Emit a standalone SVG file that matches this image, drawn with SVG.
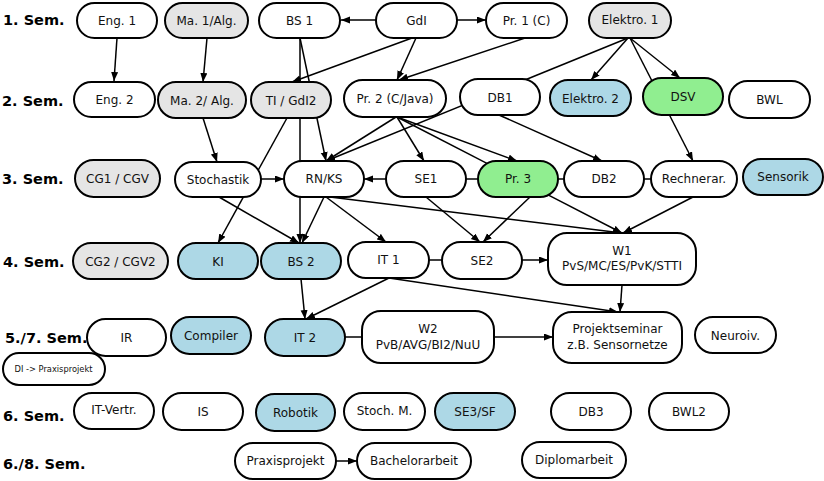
<svg xmlns="http://www.w3.org/2000/svg" width="824" height="481" viewBox="0 0 824 481">
<style>
.n rect{stroke:#000;stroke-width:2;fill:#fff}
.g rect{fill:#e5e5e5}
.b rect{fill:#add8e6}
.v rect{fill:#90ee90}
text{font-family:"DejaVu Sans","Liberation Sans",sans-serif;font-size:12px;fill:#111;text-anchor:middle}
.sem{font-weight:bold;font-size:14.5px;text-anchor:start;fill:#000}
.small{font-size:8.3px}
#edges path{stroke:#000;stroke-width:1.5;fill:none}
#edges .a{marker-end:url(#arr)}
</style>
<defs>
<marker id="arr" markerUnits="userSpaceOnUse" markerWidth="10" markerHeight="8" refX="9" refY="3.5" orient="auto">
<path d="M0,0 L9,3.5 L0,7 z" fill="#000"/>
</marker>
</defs>
<g id="labels">
<text class="sem" x="3" y="25">1. Sem.</text>
<text class="sem" x="2" y="106">2. Sem.</text>
<text class="sem" x="2" y="184">3. Sem.</text>
<text class="sem" x="3" y="267">4. Sem.</text>
<text class="sem" x="5" y="343">5./7. Sem.</text>
<text class="sem" x="3" y="421">6. Sem.</text>
<text class="sem" x="3" y="469">6./8. Sem.</text>
</g>
<g id="edges">
<path class="a" d="M117,38 L114,81"/>
<path class="a" d="M207,38 L203,82"/>
<path class="a" d="M376,20 L341,20"/>
<path class="a" d="M457,20 L486,20"/>
<path class="a" d="M412,38 L292,82"/>
<path class="a" d="M416,38 L397,80"/>
<path class="a" d="M528,37 L399,80"/>
<path class="a" d="M300,38 L300,243"/>
<path class="a" d="M300,38 L326,161"/>
<path class="a" d="M628,38 L591,80"/>
<path class="a" d="M630,38 L680,78"/>
<path class="a" d="M630,38 L693,161"/>
<path class="a" d="M628,38 L326,161"/>
<path class="a" d="M396,117 L326,161"/>
<path class="a" d="M397,117 L424,161"/>
<path class="a" d="M397,117 L517,161"/>
<path class="a" d="M397,117 L622,233"/>
<path class="a" d="M499,115 L602,161"/>
<path class="a" d="M203,118 L217,162"/>
<path class="a" d="M287,118 L218,243"/>
<path class="a" d="M261,179 L284,179"/>
<path class="a" d="M386,179 L364,179"/>
<path d="M466,179 L478,179"/>
<path d="M558,179 L564,179"/>
<path d="M644,179 L651,179"/>
<path class="a" d="M219,197 L299,243"/>
<path class="a" d="M324,197 L302,243"/>
<path class="a" d="M326,197 L386,242"/>
<path class="a" d="M330,197 L622,233"/>
<path class="a" d="M426,197 L480,242"/>
<path class="a" d="M530,197 L483,242"/>
<path class="a" d="M693,197 L623,233"/>
<path class="a" d="M522,260 L548,260"/>
<path d="M429,260 L442,260"/>
<path class="a" d="M301,279 L305,319"/>
<path class="a" d="M389,278 L306,319"/>
<path class="a" d="M389,278 L618,312"/>
<path class="a" d="M622,285 L620,312"/>
<path class="a" d="M494,337 L553,337"/>
<path d="M345,337 L362,337"/>
<path class="a" d="M336,461 L357,461"/>
</g>
<g id="eng1" class="n"><rect x="77" y="3" width="80" height="35" rx="17.5"/><text x="117" y="25">Eng. 1</text></g>
<g id="ma1" class="n g"><rect x="165" y="3" width="83" height="35" rx="17.5"/><text x="206.5" y="25">Ma. 1/Alg.</text></g>
<g id="bs1" class="n"><rect x="259" y="3" width="81" height="35" rx="17.5"/><text x="299.5" y="25">BS 1</text></g>
<g id="gdi" class="n"><rect x="376" y="3" width="81" height="35" rx="17.5"/><text x="416.5" y="25">GdI</text></g>
<g id="pr1" class="n"><rect x="486" y="3" width="81" height="35" rx="17.5"/><text x="526.5" y="25">Pr. 1 (C)</text></g>
<g id="elektro1" class="n g"><rect x="589" y="3" width="82" height="35" rx="17.5"/><text x="630" y="24">Elektro. 1</text></g>

<g id="eng2" class="n"><rect x="74" y="82" width="81" height="35" rx="17.5"/><text x="114.5" y="104">Eng. 2</text></g>
<g id="ma2" class="n g"><rect x="158" y="82" width="88" height="36" rx="18"/><text x="202" y="105">Ma. 2/ Alg.</text></g>
<g id="ti" class="n g"><rect x="251" y="82" width="80" height="36" rx="18"/><text x="291" y="105">TI / GdI2</text></g>
<g id="pr2" class="n"><rect x="344" y="80" width="102" height="37" rx="18.5"/><text x="395" y="103">Pr. 2 (C/Java)</text></g>
<g id="db1" class="n"><rect x="460" y="79" width="80" height="36" rx="18"/><text x="500" y="102">DB1</text></g>
<g id="elektro2" class="n b"><rect x="550" y="80" width="81" height="36" rx="18"/><text x="590.5" y="103">Elektro. 2</text></g>
<g id="dsv" class="n v"><rect x="643" y="78" width="80" height="37" rx="18.5"/><text x="683" y="101">DSV</text></g>
<g id="bwl" class="n"><rect x="729" y="81" width="81" height="37" rx="18.5"/><text x="769.5" y="104">BWL</text></g>

<g id="cg1" class="n g"><rect x="75" y="160" width="85" height="37" rx="18.5"/><text x="117.5" y="183">CG1 / CGV</text></g>
<g id="stochastik" class="n"><rect x="175" y="162" width="86" height="35" rx="17.5"/><text x="218" y="184">Stochastik</text></g>
<g id="rnks" class="n"><rect x="284" y="161" width="80" height="36" rx="18"/><text x="324" y="183">RN/KS</text></g>
<g id="se1" class="n"><rect x="386" y="161" width="80" height="36" rx="18"/><text x="426" y="183">SE1</text></g>
<g id="pr3" class="n v"><rect x="478" y="161" width="80" height="36" rx="18"/><text x="518" y="183">Pr. 3</text></g>
<g id="db2" class="n"><rect x="564" y="161" width="80" height="36" rx="18"/><text x="604" y="183">DB2</text></g>
<g id="rechnerar" class="n"><rect x="651" y="161" width="86" height="36" rx="18"/><text x="694" y="183">Rechnerar.</text></g>
<g id="sensorik" class="n b"><rect x="743" y="159" width="80" height="36" rx="18"/><text x="783" y="181">Sensorik</text></g>

<g id="cg2" class="n g"><rect x="73" y="243" width="95" height="36" rx="18"/><text x="120.5" y="266">CG2 / CGV2</text></g>
<g id="ki" class="n b"><rect x="178" y="243" width="80" height="36" rx="18"/><text x="218" y="266">KI</text></g>
<g id="bs2" class="n b"><rect x="261" y="243" width="80" height="36" rx="18"/><text x="301" y="266">BS 2</text></g>
<g id="it1" class="n"><rect x="348" y="242" width="81" height="36" rx="18"/><text x="388.5" y="264">IT 1</text></g>
<g id="se2" class="n"><rect x="442" y="242" width="80" height="37" rx="18.5"/><text x="482" y="265">SE2</text></g>
<g id="w1" class="n"><rect x="548" y="233" width="148" height="52" rx="19"/><text x="622" y="255">W1</text><text x="622" y="270">PvS/MC/ES/PvK/STTI</text></g>

<g id="ir" class="n"><rect x="87" y="319" width="79" height="37" rx="18.5"/><text x="126.5" y="342">IR</text></g>
<g id="compiler" class="n b"><rect x="171" y="317" width="80" height="37" rx="18.5"/><text x="211" y="340">Compiler</text></g>
<g id="it2" class="n b"><rect x="265" y="319" width="80" height="37" rx="18.5"/><text x="305" y="342">IT 2</text></g>
<g id="w2" class="n"><rect x="362" y="311" width="132" height="52" rx="19"/><text x="428" y="333">W2</text><text x="428" y="349">PvB/AVG/BI2/NuU</text></g>
<g id="projektseminar" class="n"><rect x="553" y="312" width="129" height="51" rx="19"/><text x="617.5" y="333">Projektseminar</text><text x="617.5" y="349">z.B. Sensornetze</text></g>
<g id="neuroiv" class="n"><rect x="695" y="317" width="81" height="36" rx="18"/><text x="735.5" y="340">Neuroiv.</text></g>
<g id="di" class="n"><rect x="3" y="353" width="102" height="32" rx="16"/><text class="small" x="53.5" y="372">DI -&gt; Praxisprojekt</text></g>

<g id="itvertr" class="n"><rect x="74" y="393" width="80" height="36" rx="18"/><text x="114" y="414">IT-Vertr.</text></g>
<g id="is" class="n"><rect x="163" y="393" width="80" height="37" rx="18.5"/><text x="203" y="416">IS</text></g>
<g id="robotik" class="n b"><rect x="256" y="394" width="79" height="37" rx="18.5"/><text x="295.5" y="417">Robotik</text></g>
<g id="stochm" class="n"><rect x="344" y="393" width="81" height="37" rx="18.5"/><text x="384.5" y="415">Stoch. M.</text></g>
<g id="se3" class="n b"><rect x="435" y="393" width="80" height="37" rx="18.5"/><text x="475" y="416">SE3/SF</text></g>
<g id="db3" class="n"><rect x="551" y="393" width="80" height="37" rx="18.5"/><text x="591" y="416">DB3</text></g>
<g id="bwl2" class="n"><rect x="649" y="393" width="80" height="37" rx="18.5"/><text x="689" y="416">BWL2</text></g>

<g id="praxisprojekt" class="n"><rect x="235" y="443" width="101" height="36" rx="18"/><text x="285.5" y="465">Praxisprojekt</text></g>
<g id="bachelorarbeit" class="n"><rect x="357" y="443" width="114" height="36" rx="18"/><text x="414" y="465">Bachelorarbeit</text></g>
<g id="diplomarbeit" class="n"><rect x="522" y="442" width="104" height="36" rx="18"/><text x="574" y="464">Diplomarbeit</text></g>
</svg>
